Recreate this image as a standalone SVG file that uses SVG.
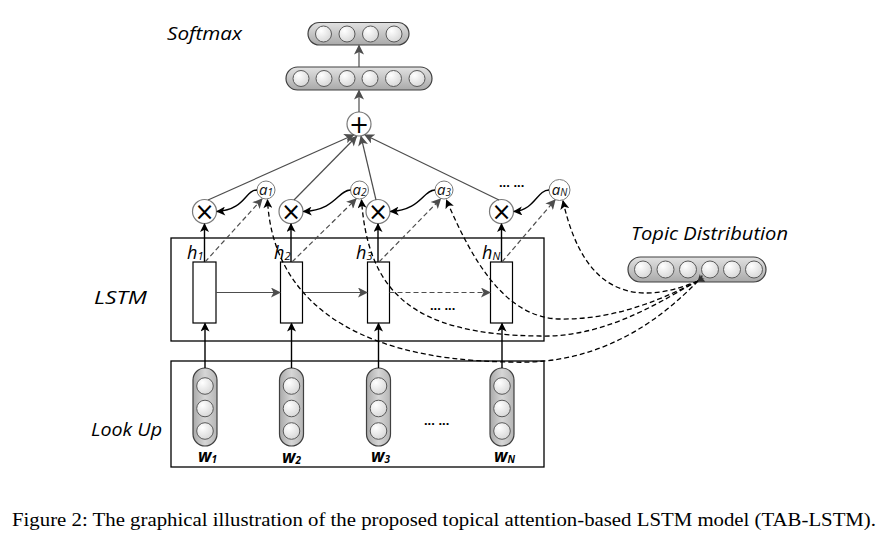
<svg xmlns="http://www.w3.org/2000/svg" width="885" height="545" viewBox="0 0 885 545">
<defs>
<linearGradient id="pillH" x1="0" y1="0" x2="0" y2="1">
<stop offset="0" stop-color="#e2e2e2"/><stop offset="1" stop-color="#a9a9a9"/>
</linearGradient>
<linearGradient id="pillV" x1="0" y1="0" x2="1" y2="0">
<stop offset="0" stop-color="#a9a9a9"/><stop offset="0.5" stop-color="#d6d6d6"/><stop offset="1" stop-color="#b5b5b5"/>
</linearGradient>
<radialGradient id="cell" cx="0.35" cy="0.3" r="0.8">
<stop offset="0" stop-color="#ffffff"/><stop offset="1" stop-color="#d4d4d4"/>
</radialGradient>
<marker id="ab" viewBox="0 0 10 10" refX="9" refY="5" markerWidth="10" markerHeight="9" markerUnits="userSpaceOnUse" orient="auto">
<path d="M0,0 L10,5 L0,10 L2.5,5 z" fill="#000"/>
</marker>
<marker id="ag" viewBox="0 0 10 10" refX="9" refY="5" markerWidth="11" markerHeight="10" markerUnits="userSpaceOnUse" orient="auto">
<path d="M0,0 L10,5 L0,10 L2.5,5 z" fill="#4d4d4d"/>
</marker>
<marker id="as" viewBox="0 0 10 10" refX="9" refY="5" markerWidth="8" markerHeight="7" markerUnits="userSpaceOnUse" orient="auto">
<path d="M0,0 L10,5 L0,10 L2.5,5 z" fill="#333"/>
</marker>
<style>
.lbl{font-family:"Open Sans","Liberation Sans",sans-serif;font-style:italic;fill:#000}
.big{font-size:18px}
.pill{stroke:#404040;stroke-width:1.2}
.unit{fill:url(#cell);stroke:#5a5a5a;stroke-width:1}
.box{fill:none;stroke:#000;stroke-width:1.3}
.lstm{fill:#fff;stroke:#000;stroke-width:1.2}
.op{fill:#fff;stroke:#7a7a7a;stroke-width:1.2}
.sym{font-family:"DejaVu Sans",sans-serif;font-size:24px;fill:#000;text-anchor:middle}
.att{fill:#fff;stroke:#7a7a7a;stroke-width:1}
.al{font-family:"Open Sans","Liberation Sans",sans-serif;font-style:italic;font-size:15px;fill:#111;text-anchor:middle}
.hl{font-family:"Open Sans","Liberation Sans",sans-serif;font-style:italic;font-size:18px;fill:#000}
.wl{font-family:"Open Sans","Liberation Sans",sans-serif;font-style:italic;font-weight:bold;font-size:17px;fill:#000}
.dots{font-family:"Liberation Sans",sans-serif;font-size:13px;font-weight:bold;fill:#000}
.solid{fill:none;stroke:#000;stroke-width:1.4}
.gray{fill:none;stroke:#4d4d4d;stroke-width:1.2}
.gdash{fill:none;stroke:#4d4d4d;stroke-width:1.2;stroke-dasharray:5 3}
.kdash{fill:none;stroke:#000;stroke-width:1.3;stroke-dasharray:5 3}
</style>
</defs>
<rect width="885" height="545" fill="#fff"/>

<g id="softmax-label"><text class="lbl big" x="167" y="40" textLength="75" lengthAdjust="spacingAndGlyphs">Softmax</text></g>
<g id="lstm-label"><text class="lbl big" x="94" y="304" textLength="53" lengthAdjust="spacingAndGlyphs">LSTM</text></g>
<g id="lookup-label"><text class="lbl big" x="91" y="436" textLength="71" lengthAdjust="spacingAndGlyphs">Look Up</text></g>
<g id="topic-label"><text class="lbl big" x="631" y="240" textLength="157" lengthAdjust="spacingAndGlyphs">Topic Distribution</text></g>

<g id="lstm-box"><rect class="box" x="171" y="238" width="373" height="103"/></g>
<g id="lookup-box"><rect class="box" x="171" y="361" width="373" height="106"/></g>

<g id="softmax-layer">
<rect class="pill" x="308" y="22.5" width="101" height="22.5" rx="11.25" fill="url(#pillH)"/>
<circle class="unit" cx="323.5" cy="34" r="8"/><circle class="unit" cx="347" cy="34" r="8"/><circle class="unit" cx="370.5" cy="34" r="8"/><circle class="unit" cx="394" cy="34" r="8"/>
</g>
<g id="hidden-layer">
<rect class="pill" x="286" y="67" width="146" height="23" rx="11.5" fill="url(#pillH)"/>
<circle class="unit" cx="301" cy="78.5" r="8"/><circle class="unit" cx="324" cy="78.5" r="8"/><circle class="unit" cx="347" cy="78.5" r="8"/><circle class="unit" cx="370" cy="78.5" r="8"/><circle class="unit" cx="393.5" cy="78.5" r="8"/><circle class="unit" cx="417" cy="78.5" r="8"/>
</g>
<g id="sum"><circle class="op" cx="359" cy="124" r="12"/><text class="sym" x="359" y="132.5">+</text></g>

<g id="mul1"><circle class="op" cx="204.5" cy="211.5" r="12"/><text class="sym" x="204.5" y="219.5">×</text></g>
<g id="mul2"><circle class="op" cx="291" cy="211.5" r="12"/><text class="sym" x="291" y="219.5">×</text></g>
<g id="mul3"><circle class="op" cx="378" cy="211.5" r="12"/><text class="sym" x="378" y="219.5">×</text></g>
<g id="mulN"><circle class="op" cx="501.5" cy="211.5" r="12"/><text class="sym" x="501.5" y="219.5">×</text></g>

<g id="a1"><circle class="att" cx="266" cy="190" r="9"/><text class="al" x="266" y="195">a<tspan font-size="10" dy="1">1</tspan></text></g>
<g id="a2"><circle class="att" cx="359.5" cy="190" r="9"/><text class="al" x="359.5" y="195">a<tspan font-size="10" dy="1">2</tspan></text></g>
<g id="a3"><circle class="att" cx="444" cy="190" r="9"/><text class="al" x="444" y="195">a<tspan font-size="10" dy="1">3</tspan></text></g>
<g id="aN"><circle class="att" cx="559.5" cy="190" r="10.5"/><text class="al" x="559.5" y="195">a<tspan font-size="10" dy="1">N</tspan></text></g>
<g id="dots-top"><text class="dots" x="499" y="187">... ...</text></g>

<g id="h1"><rect class="lstm" x="193" y="262" width="23" height="61"/><text class="hl" x="187" y="259">h<tspan font-size="11" dy="1">1</tspan></text></g>
<g id="h2"><rect class="lstm" x="280.5" y="262" width="22" height="61"/><text class="hl" x="274" y="259">h<tspan font-size="11" dy="1">2</tspan></text></g>
<g id="h3"><rect class="lstm" x="367.5" y="262" width="22" height="61"/><text class="hl" x="356" y="259">h<tspan font-size="11" dy="1">3</tspan></text></g>
<g id="hN"><rect class="lstm" x="490.5" y="262" width="22" height="61"/><text class="hl" x="482" y="259">h<tspan font-size="11" dy="1">N</tspan></text></g>
<g id="dots-lstm"><text class="dots" x="430" y="310">... ...</text></g>

<g id="w1"><rect class="pill" x="193" y="368" width="24" height="78" rx="12" fill="url(#pillV)"/>
<circle class="unit" cx="205" cy="386" r="8.3"/><circle class="unit" cx="205" cy="408.5" r="8.3"/><circle class="unit" cx="205" cy="431" r="8.3"/>
<text class="wl" x="198" y="462">w<tspan font-size="10" dy="1">1</tspan></text></g>
<g id="w2"><rect class="pill" x="279.5" y="368" width="24" height="78" rx="12" fill="url(#pillV)"/>
<circle class="unit" cx="291.5" cy="386" r="8.3"/><circle class="unit" cx="291.5" cy="408.5" r="8.3"/><circle class="unit" cx="291.5" cy="431" r="8.3"/>
<text class="wl" x="282" y="463">w<tspan font-size="10" dy="1">2</tspan></text></g>
<g id="w3"><rect class="pill" x="366.5" y="368" width="24" height="78" rx="12" fill="url(#pillV)"/>
<circle class="unit" cx="378.5" cy="386" r="8.3"/><circle class="unit" cx="378.5" cy="408.5" r="8.3"/><circle class="unit" cx="378.5" cy="431" r="8.3"/>
<text class="wl" x="371" y="462">w<tspan font-size="10" dy="1">3</tspan></text></g>
<g id="wN"><rect class="pill" x="490" y="368" width="24" height="78" rx="12" fill="url(#pillV)"/>
<circle class="unit" cx="502" cy="386" r="8.3"/><circle class="unit" cx="502" cy="408.5" r="8.3"/><circle class="unit" cx="502" cy="431" r="8.3"/>
<text class="wl" x="494" y="462">w<tspan font-size="10" dy="1">N</tspan></text></g>
<g id="dots-lookup"><text class="dots" x="424" y="425">... ...</text></g>

<g id="topic">
<rect class="pill" x="628" y="257" width="138" height="25" rx="12.5" fill="url(#pillH)"/>
<circle class="unit" cx="643" cy="269.5" r="8.5"/><circle class="unit" cx="665.5" cy="269.5" r="8.5"/><circle class="unit" cx="688" cy="269.5" r="8.5"/><circle class="unit" cx="710" cy="269.5" r="8.5"/><circle class="unit" cx="732" cy="269.5" r="8.5"/><circle class="unit" cx="754" cy="269.5" r="8.5"/>
</g>

<g id="connectors">
<line class="solid" x1="205" y1="368" x2="205" y2="323.5" marker-end="url(#ab)"/>
<line class="solid" x1="291.5" y1="368" x2="291.5" y2="323.5" marker-end="url(#ab)"/>
<line class="solid" x1="378.5" y1="368" x2="378.5" y2="323.5" marker-end="url(#ab)"/>
<line class="solid" x1="502" y1="368" x2="502" y2="323.5" marker-end="url(#ab)"/>
<line class="solid" x1="204.5" y1="262" x2="204.5" y2="224" marker-end="url(#ab)"/>
<line class="solid" x1="291" y1="262" x2="291" y2="224" marker-end="url(#ab)"/>
<line class="solid" x1="378" y1="262" x2="378" y2="224" marker-end="url(#ab)"/>
<line class="solid" x1="501.5" y1="262" x2="501.5" y2="224" marker-end="url(#ab)"/>
<line class="gray" x1="216" y1="292.5" x2="280" y2="292.5" marker-end="url(#ag)"/>
<line class="gray" x1="302.5" y1="292.5" x2="367" y2="292.5" marker-end="url(#ag)"/>
<line class="gdash" x1="389.5" y1="292.5" x2="490" y2="292.5" marker-end="url(#ag)"/>
<line class="gdash" x1="205" y1="262" x2="262" y2="199" marker-end="url(#ag)"/>
<line class="gdash" x1="292" y1="262" x2="356" y2="199" marker-end="url(#ag)"/>
<line class="gdash" x1="379" y1="262" x2="440.5" y2="199" marker-end="url(#ag)"/>
<line class="gdash" x1="502" y1="262" x2="555" y2="200" marker-end="url(#ag)"/>
<path class="solid" d="M257,190 C245,190 245,210 217,211.5" marker-end="url(#ab)"/>
<path class="solid" d="M350.5,190 C338,190 336,210 303.5,211.5" marker-end="url(#ab)"/>
<path class="solid" d="M435,190 C423,190 421,210 390.5,211.5" marker-end="url(#ab)"/>
<path class="solid" d="M549,190 C537,190 535,210 514,211.5" marker-end="url(#ab)"/>
<line class="gray" x1="208" y1="200" x2="353.5" y2="135" marker-end="url(#ag)"/>
<line class="gray" x1="294" y1="200" x2="356.5" y2="136.5" marker-end="url(#ag)"/>
<line class="gray" x1="376" y1="200" x2="361" y2="136.5" marker-end="url(#ag)"/>
<line class="gray" x1="499" y1="200" x2="365" y2="135" marker-end="url(#ag)"/>
<line class="gray" x1="359" y1="112" x2="359" y2="90.5" marker-end="url(#ag)"/>
<line class="gray" x1="359" y1="67" x2="359" y2="45.5" marker-end="url(#ag)"/>
<path class="kdash" d="M698,281 C660,320 600,366 510,362 C340,360 272,290 267.5,200" marker-start="url(#as)" marker-end="url(#ab)"/>
<path class="kdash" d="M698,281 C670,295 610,338 540,336 C410,335 368,290 361.5,200" marker-start="url(#as)" marker-end="url(#ab)"/>
<path class="kdash" d="M698,281 C670,295 620,320 560,319 C505,318 472,260 446.5,200" marker-start="url(#as)" marker-end="url(#ab)"/>
<path class="kdash" d="M698,281 C640,305 585,300 563,201" marker-start="url(#as)" marker-end="url(#ab)"/>
</g>

<g id="caption"><text x="12" y="526" font-family="Liberation Serif, serif" font-size="18" fill="#000" textLength="864" lengthAdjust="spacingAndGlyphs">Figure 2: The graphical illustration of the proposed topical attention-based LSTM model (TAB-LSTM).</text></g>
</svg>
